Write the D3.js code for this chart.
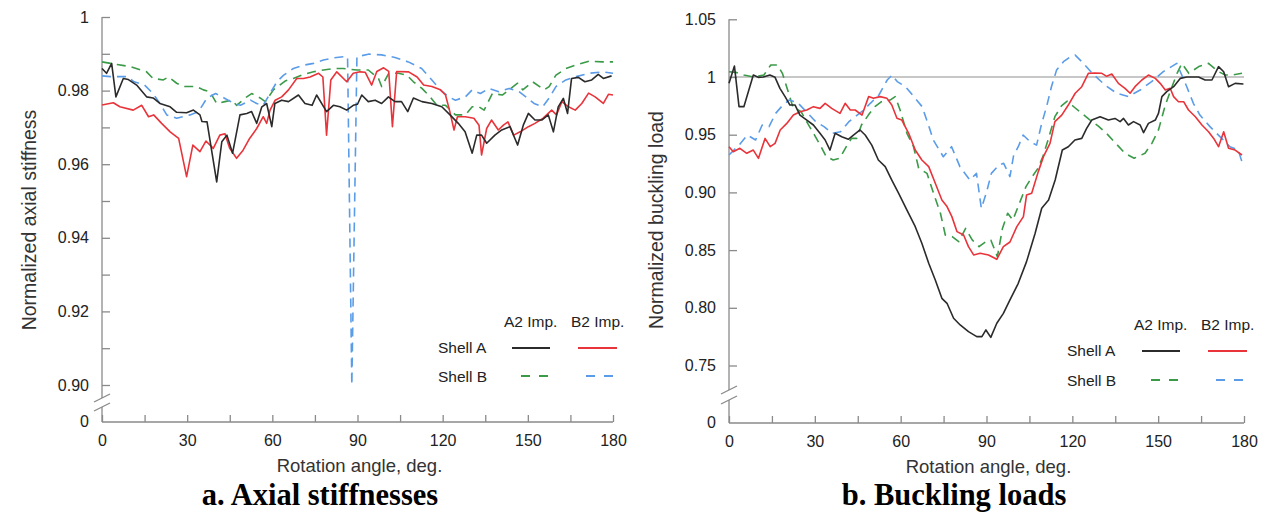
<!DOCTYPE html>
<html><head><meta charset="utf-8">
<script src="https://cdn.jsdelivr.net/npm/d3@7"></script>
<style>
html,body{margin:0;padding:0;background:#fff;}
svg{display:block;}
</style></head><body>
<svg id="c" width="1262" height="515"></svg>
<script>
// ---------- tick labels / categories ----------
const angleTicks = [0, 30, 60, 90, 120, 150, 180];
const angleMinorStep = 15;
const stiffTicks = [0.90, 0.92, 0.94, 0.96, 0.98, 1];
const stiffMinor = [0.91, 0.93, 0.95, 0.97, 0.99];
const buckTicks = [0.75, 0.80, 0.85, 0.90, 0.95, 1, 1.05];
const legendCols = ["A2 Imp.", "B2 Imp."];
const legendRows = ["Shell A", "Shell B"];

// ---------- series (angle deg, value) ----------
// a. Axial stiffness
const stiffShellA_A2 = [[0,0.986],[1.6,0.9847],[3.4,0.9874],[4.9,0.9783],[7.5,0.9833],[9.3,0.983],[12.2,0.9815],[15.7,0.9783],[18,0.978],[20.4,0.9765],[24,0.9756],[26.3,0.9741],[29.8,0.974],[32.2,0.9747],[34.5,0.9734],[35.2,0.9716],[37,0.9715],[40.4,0.9552],[42.2,0.9661],[44,0.9679],[46,0.963],[48.6,0.9734],[51,0.9738],[52.7,0.9743],[54.5,0.9711],[56.3,0.9756],[58,0.9765],[59.8,0.9702],[60.9,0.9765],[63.3,0.9774],[65.7,0.977],[69.2,0.9788],[71.5,0.9765],[74,0.976],[75.6,0.9788],[79.1,0.9743],[81.5,0.976],[83.8,0.9756],[86.2,0.9747],[88.5,0.976],[90,0.9763],[91.5,0.9788],[93.8,0.977],[96.2,0.9774],[98.5,0.9765],[100.9,0.9783],[103.2,0.977],[105.5,0.977],[107.7,0.9743],[109.7,0.978],[112.7,0.977],[116.2,0.9765],[119.7,0.9756],[122.6,0.9734],[125.5,0.9711],[127.9,0.9688],[130.4,0.963],[132,0.9679],[133.7,0.9679],[135.5,0.9657],[138.4,0.9679],[140.8,0.9693],[143.7,0.9702],[146.4,0.9652],[148.4,0.9706],[150.2,0.9738],[152.5,0.972],[154.9,0.972],[157.2,0.9734],[159,0.9688],[160.7,0.9756],[162.5,0.9779],[164,0.9738],[165.4,0.9833],[167.8,0.9836],[170.1,0.9824],[172.5,0.9829],[174.8,0.9844],[176.6,0.9833],[179.5,0.984]];
const stiffShellA_B2 = [[0,0.9761],[4,0.9767],[6.3,0.9756],[11,0.9747],[14,0.976],[16.4,0.9729],[18.2,0.9734],[21,0.9711],[24,0.9688],[27,0.967],[29.8,0.9566],[32,0.9652],[34.5,0.9634],[36.6,0.9663],[39.2,0.9643],[41.5,0.9679],[43.3,0.9683],[45,0.9643],[47.4,0.9616],[49.7,0.9638],[52,0.967],[54.5,0.9697],[56.8,0.9729],[58,0.9711],[59.2,0.9747],[61,0.9774],[63.3,0.9783],[65.7,0.9802],[68.6,0.9833],[71,0.9833],[73.3,0.9837],[76.3,0.9847],[77.8,0.9837],[79.1,0.9679],[80.6,0.9829],[82.7,0.9851],[86.2,0.9824],[88.5,0.9847],[90.9,0.9851],[92.7,0.985],[95,0.9815],[96.8,0.9852],[99.2,0.9862],[101,0.9852],[102.3,0.9702],[103.8,0.9852],[108,0.9851],[111,0.9837],[113.3,0.9815],[116.2,0.9811],[119.2,0.9802],[121,0.9788],[122.4,0.9747],[124,0.9693],[125.2,0.9729],[128,0.9729],[131,0.9725],[132.8,0.9706],[133.7,0.9625],[135.5,0.9697],[137.2,0.972],[139.6,0.9693],[141.4,0.9706],[143,0.9715],[145,0.9679],[147.3,0.9688],[150.2,0.9702],[152.5,0.9711],[155.4,0.9725],[158.4,0.9747],[160.1,0.9734],[162,0.977],[164.3,0.9756],[166.7,0.9747],[169,0.9765],[171.4,0.9793],[173.7,0.9783],[176.6,0.9765],[178.4,0.979],[180,0.9788]];
const stiffShellB_A2 = [[0,0.9878],[3,0.9874],[5.3,0.9871],[10,0.9865],[15.7,0.9851],[18,0.9833],[21.6,0.9829],[23.4,0.9837],[26.3,0.982],[28.6,0.9811],[33.3,0.9811],[35.7,0.9802],[38,0.9797],[40.4,0.9765],[43.3,0.977],[45.7,0.9774],[47.4,0.976],[51,0.9783],[52.7,0.9792],[55.7,0.978],[57.5,0.977],[60.4,0.9802],[64.5,0.9826],[67.4,0.9833],[71,0.9844],[74.5,0.9851],[78,0.9856],[81.5,0.986],[85,0.986],[89.7,0.9856],[93.8,0.9856],[97.4,0.9833],[98.5,0.9811],[101,0.9847],[104.4,0.9847],[107.4,0.9842],[109.7,0.9824],[112.7,0.9806],[115.6,0.9783],[118,0.976],[121,0.976],[124.5,0.9734],[128,0.9734],[130.4,0.9756],[132.8,0.9756],[134.6,0.9747],[137.5,0.9792],[141,0.9788],[143.4,0.9802],[146.4,0.982],[148.2,0.9802],[151.7,0.9824],[155.8,0.9802],[157.5,0.9811],[159.9,0.9842],[163.4,0.986],[167,0.987],[171.6,0.988],[176.3,0.9878],[180,0.9878]];
const stiffShellB_B2 = [[0,0.984],[3,0.9838],[9,0.9838],[11.3,0.9824],[15,0.9815],[18,0.9792],[20.4,0.9765],[22.8,0.9734],[26.3,0.9725],[31,0.9734],[34,0.9743],[37,0.978],[40,0.9792],[43,0.978],[46.5,0.9765],[48.8,0.976],[52.3,0.9774],[54.5,0.9765],[56.8,0.976],[59.2,0.9792],[61.6,0.9824],[64,0.9842],[67.4,0.986],[71,0.9869],[74.5,0.9874],[78,0.9883],[81.5,0.9889],[85,0.9892],[86.5,0.9892],[88,0.900],[89.8,0.9892],[93.8,0.9899],[98.5,0.9897],[103.2,0.989],[107.9,0.9878],[112.6,0.986],[116.2,0.9829],[119.2,0.9802],[122.1,0.9783],[124.5,0.9774],[128,0.9783],[130.4,0.9802],[133.3,0.9792],[136.3,0.9806],[139.8,0.9797],[143.4,0.9806],[146.9,0.9797],[149.3,0.9783],[152.2,0.9765],[155.2,0.9756],[157.5,0.978],[159.9,0.9811],[163.4,0.9829],[167,0.9838],[171.6,0.9847],[176.3,0.9851],[180,0.9847]];

// b. Buckling load
const buckShellA_A2 = [[0,0.9945],[1.9,1.0095],[3.5,0.9743],[5.2,0.9743],[6.6,0.9859],[8.5,1.0017],[10.2,0.9997],[12,1.0],[14.3,1.0017],[16.1,0.9997],[17.8,0.9902],[19.6,0.983],[21.3,0.9757],[23.1,0.9757],[24.8,0.967],[27.2,0.9627],[29.5,0.9584],[31.8,0.9512],[33.6,0.9454],[35.3,0.9367],[37.1,0.9512],[39.4,0.9483],[41.7,0.946],[43.5,0.9497],[45.8,0.9541],[47.6,0.9497],[49.9,0.941],[52.2,0.9281],[54.6,0.9223],[56.9,0.9107],[59.3,0.8992],[62.2,0.8847],[65.1,0.8703],[67.4,0.8559],[69.8,0.8386],[72.1,0.8241],[74.4,0.8082],[76.2,0.8039],[78.5,0.7909],[80.8,0.7851],[83.7,0.7793],[86.6,0.775],[88.4,0.775],[89.8,0.7808],[91.5,0.7744],[93.6,0.7866],[95.9,0.7952],[98.2,0.8068],[101.1,0.8212],[104,0.84],[107,0.8646],[109.3,0.8862],[111.7,0.8934],[114,0.9107],[116.5,0.9367],[118.6,0.9396],[120.9,0.9454],[123.3,0.9468],[125,0.9555],[126.8,0.9627],[129.7,0.9656],[132.6,0.9627],[134.9,0.9641],[136.7,0.9613],[137.9,0.9641],[139.6,0.9584],[141.4,0.9613],[143.7,0.9584],[144.9,0.9518],[146.6,0.9598],[149,0.9627],[150.1,0.9684],[151.3,0.983],[153,0.9873],[155.4,0.9916],[157.7,0.9988],[160,1.0],[164.1,1.0],[166.4,0.9974],[168.8,0.9974],[171.1,1.009],[172.9,1.0045],[174.6,0.9916],[176.9,0.9945],[179.8,0.994]];
const buckShellA_B2 = [[0,0.9396],[1.5,0.9353],[3.8,0.9382],[6.2,0.9339],[8.5,0.9367],[10.3,0.9295],[12.6,0.9468],[14.4,0.9396],[16.1,0.9425],[17.9,0.9541],[20.2,0.9598],[22.5,0.967],[24.9,0.9699],[27.2,0.9714],[29.5,0.9743],[31.8,0.9728],[33.6,0.9772],[35.9,0.9728],[38.8,0.9685],[40.6,0.9772],[42.4,0.9714],[44.1,0.9714],[46.5,0.967],[48.8,0.983],[50.5,0.9815],[52.8,0.983],[55.2,0.9815],[56.9,0.9757],[58.7,0.9642],[60.4,0.9627],[62.8,0.9512],[65.1,0.9367],[67.4,0.9281],[69.8,0.9223],[72.1,0.9079],[74.4,0.8934],[76.2,0.8877],[77.9,0.879],[79.7,0.866],[82,0.8631],[83.7,0.853],[85.5,0.8458],[87.8,0.8472],[90.7,0.8458],[93.6,0.842],[95.9,0.853],[98.2,0.857],[100.6,0.8703],[102.9,0.879],[104,0.8977],[105.8,0.8992],[108.1,0.918],[109.9,0.931],[112.2,0.9425],[113.9,0.9613],[116.3,0.967],[118.6,0.9757],[121,0.9859],[123.3,0.9916],[125.6,1.0032],[127.9,1.0035],[130.3,1.0032],[132,1.0006],[133.8,1.0026],[136.1,0.9945],[138.4,0.9902],[140.2,0.9859],[141.9,0.9916],[144.3,0.9974],[146.6,1.0017],[149,0.9988],[150.7,0.9945],[152.5,0.9887],[154.2,0.9902],[155.4,0.983],[157.1,0.9786],[158.9,0.9786],[160.6,0.9714],[163,0.9656],[165.3,0.9584],[167.6,0.9526],[169.4,0.9468],[171.1,0.9396],[172.9,0.9526],[174.6,0.9382],[176.9,0.9367],[179.3,0.9324]];
const buckShellB_A2 = [[0,1.0046],[2.4,1.004],[5.2,1.0017],[8.7,1.0],[12.2,1.0017],[14.6,1.0104],[17,1.0104],[18.7,1.003],[20.5,0.9887],[22.3,0.9743],[25.2,0.97],[27.5,0.9598],[29.9,0.9497],[32.2,0.9396],[34,0.931],[36.4,0.9281],[38.7,0.9295],[41,0.9396],[42.8,0.9468],[44.6,0.9468],[46.3,0.9584],[48.7,0.967],[51,0.9743],[53.3,0.9786],[56.3,0.98],[58.1,0.983],[59.8,0.9714],[62.2,0.9512],[64.5,0.9396],[66.3,0.9209],[69.2,0.9165],[71.5,0.8992],[73.9,0.8819],[75.6,0.8631],[78,0.8616],[80.3,0.8573],[82.7,0.8688],[85,0.8588],[87.4,0.853],[89.7,0.8573],[91.5,0.8588],[93.8,0.8443],[95.6,0.869],[97.4,0.8819],[99.2,0.876],[101.5,0.8905],[103.8,0.905],[105.6,0.9122],[108,0.9209],[109.7,0.931],[111.5,0.9454],[113.9,0.9656],[116.2,0.975],[118.2,0.979],[120.6,0.974],[123.3,0.9685],[126,0.963],[129.1,0.9575],[132,0.951],[135,0.943],[138.4,0.9339],[141.6,0.9296],[145.4,0.9339],[147.8,0.9425],[150.1,0.9541],[152.5,0.9757],[154.2,0.9873],[156.6,1.0032],[158.3,1.0118],[160.7,1.0032],[164.2,1.009],[167.6,1.0118],[171.1,1.0046],[173.5,1.0017],[175.8,1.0017],[179.3,1.0032]];
const buckShellB_B2 = [[0,0.9324],[3.5,0.941],[6.4,0.9497],[9.3,0.9454],[11.6,0.9584],[14,0.957],[16.3,0.9685],[18.6,0.975],[21,0.980],[23.9,0.978],[27.4,0.969],[30.3,0.9613],[33.2,0.957],[36.1,0.9512],[39,0.9526],[41.9,0.9613],[44.8,0.967],[47.1,0.9714],[49.4,0.9772],[52.4,0.9844],[55.3,0.9974],[57,1.0017],[58.8,0.996],[61.7,0.9916],[64.6,0.983],[67.5,0.9743],[69.9,0.957],[71.4,0.9454],[74.9,0.9309],[77.8,0.9396],[80.7,0.9223],[84.2,0.9107],[86.5,0.9165],[88.2,0.8862],[90,0.9],[91.7,0.9165],[94.4,0.9238],[96,0.9252],[98.2,0.9137],[99.5,0.9324],[101.1,0.9396],[102.8,0.9497],[105.2,0.944],[107.5,0.941],[109.3,0.9598],[111,0.9743],[112.7,0.9916],[114.5,1.006],[116.9,1.0133],[119,1.017],[121,1.019],[123.8,1.012],[127,1.0032],[131.4,0.993],[135.5,0.9859],[139.6,0.983],[143.7,0.9887],[147.7,0.996],[151.8,1.0046],[156.5,1.0118],[160,0.9916],[162.3,0.9772],[164.6,0.967],[168.1,0.957],[171.6,0.9483],[175.1,0.9396],[178,0.9367],[179.8,0.9223]];

// ---------- styles ----------
const seriesStyle = {
  A_A2: {color: "#2b2b2b", dash: null},
  A_B2: {color: "#e8343a", dash: null},
  B_A2: {color: "#3a9a47", dash: "9,6"},
  B_B2: {color: "#5b9ce8", dash: "9,6"}
};
const axisColor = "#8a8a8a";
const SANS = '"Liberation Sans", Arial, Helvetica, sans-serif';
const SERIF = '"Liberation Serif", "Times New Roman", serif';

const svg = d3.select("#c");

function panel(cfg) {
  const g = svg.append("g").style("font-family", SANS);
  const x = d3.scaleLinear().domain([0, 180]).range([cfg.x0, cfg.x1]);
  const y = d3.scaleLinear().domain(cfg.yDomain).range(cfg.yRange);

  // reference line
  if (cfg.refLine != null) {
    g.append("line").attr("x1", cfg.x0).attr("x2", cfg.x1)
      .attr("y1", y(cfg.refLine)).attr("y2", y(cfg.refLine))
      .attr("stroke", "#b5b5b5").attr("stroke-width", 1.3);
  }

  // x axis
  const xa = g.append("g").attr("transform", `translate(0,${cfg.axisY})`)
    .call(d3.axisBottom(x).tickValues(d3.range(0, 181, angleMinorStep))
      .tickSize(-7).tickPadding(13)
      .tickFormat(d => angleTicks.includes(d) ? d : ""));
  xa.select(".domain").remove();
  xa.selectAll("line").attr("stroke", axisColor).attr("stroke-width", 1.3);
  xa.selectAll("text").attr("font-size", 16).attr("fill", "#222").style("font-family", SANS);
  g.append("line").attr("x1", cfg.x0).attr("x2", cfg.x1)
    .attr("y1", cfg.axisY).attr("y2", cfg.axisY)
    .attr("stroke", axisColor).attr("stroke-width", 1.3);

  // y axis
  const ya = g.append("g").attr("transform", `translate(${cfg.x0},0)`)
    .call(d3.axisLeft(y).tickValues(cfg.yTicks.concat(cfg.yMinor || []))
      .tickSize(-8).tickPadding(13)
      .tickFormat(d => cfg.yTicks.includes(d) ? cfg.fmt(d) : ""));
  ya.select(".domain").remove();
  ya.selectAll("line").attr("stroke", axisColor).attr("stroke-width", 1.3);
  ya.selectAll("text").attr("font-size", 16).attr("fill", "#222").style("font-family", SANS);

  // axis line with break
  g.append("line").attr("x1", cfg.x0).attr("x2", cfg.x0)
    .attr("y1", cfg.yRange[1]).attr("y2", cfg.breakTop)
    .attr("stroke", axisColor).attr("stroke-width", 1.3);
  g.append("line").attr("x1", cfg.x0).attr("x2", cfg.x0)
    .attr("y1", cfg.breakBot).attr("y2", cfg.axisY)
    .attr("stroke", axisColor).attr("stroke-width", 1.3);
  [cfg.breakTop, cfg.breakBot].forEach(yy => {
    g.append("line").attr("x1", cfg.x0 - 8).attr("x2", cfg.x0 + 8)
      .attr("y1", yy + 4).attr("y2", yy - 4)
      .attr("stroke", axisColor).attr("stroke-width", 1.3);
  });
  g.append("text").attr("x", cfg.x0 - 13).attr("y", cfg.axisY)
    .attr("dy", "0.32em").attr("text-anchor", "end").attr("fill", "#222")
    .attr("font-size", 16).text("0");

  // series
  const line = d3.line().x(d => x(d[0])).y(d => y(d[1]));
  cfg.series.forEach(s => {
    const st = seriesStyle[s.key];
    g.append("path").datum(s.data).attr("d", line)
      .attr("fill", "none").attr("stroke", st.color)
      .attr("stroke-width", 1.6).attr("stroke-linejoin", "round")
      .attr("stroke-dasharray", st.dash);
  });

  // axis titles
  g.append("text").attr("x", (cfg.x0 + cfg.x1) / 2 + 2).attr("y", cfg.axisY + 50)
    .attr("text-anchor", "middle").attr("font-size", 18.5).attr("fill", "#333")
    .text("Rotation angle, deg.");
  g.append("text")
    .attr("transform", `translate(${cfg.x0 - 66},220) rotate(-90)`)
    .attr("text-anchor", "middle").attr("font-size", 19.5).attr("fill", "#333")
    .text(cfg.yTitle);

  // legend
  const L = cfg.legend;
  const lt = (xx, yy, s) => g.append("text").attr("x", xx).attr("y", yy)
    .attr("font-size", 15.5).attr("fill", "#222").text(s);
  lt(L.c1, L.hy, legendCols[0]);
  lt(L.c2, L.hy, legendCols[1]);
  lt(L.rx, L.r1, legendRows[0]);
  lt(L.rx, L.r2, legendRows[1]);
  const lg = (x1, x2, yy, key) => {
    const st = seriesStyle[key];
    g.append("line").attr("x1", x1).attr("x2", x2).attr("y1", yy).attr("y2", yy)
      .attr("stroke", st.color).attr("stroke-width", 1.8)
      .attr("stroke-dasharray", st.dash ? "9,9" : null);
  };
  lg(L.c1 + 8, L.c1 + 46, L.r1 - 5, "A_A2");
  lg(L.c2 + 7, L.c2 + 46, L.r1 - 5, "A_B2");
  lg(L.c1 + 17, L.c1 + 44, L.r2 - 6, "B_A2");
  lg(L.c2 + 15, L.c2 + 42, L.r2 - 6, "B_B2");

  // caption
  g.append("text").attr("x", cfg.capX).attr("y", 505)
    .attr("text-anchor", "middle").attr("font-size", 30.5).attr("font-weight", "bold")
    .style("font-family", SERIF).attr("fill", "#000")
    .text(cfg.caption);
}

panel({
  x0: 102, x1: 613, axisY: 422,
  yDomain: [0.90, 1], yRange: [385, 17],
  yTicks: stiffTicks, yMinor: stiffMinor,
  fmt: d => d === 1 ? "1" : d3.format(".2f")(d),
  breakTop: 398, breakBot: 407,
  yTitle: "Normalized axial stiffness",
  legend: {c1: 504, c2: 571, hy: 327, rx: 438, r1: 353, r2: 382},
  caption: "a. Axial stiffnesses", capX: 320,
  series: [
    {key: "B_A2", data: stiffShellB_A2},
    {key: "B_B2", data: stiffShellB_B2},
    {key: "A_B2", data: stiffShellA_B2},
    {key: "A_A2", data: stiffShellA_A2}
  ]
});

panel({
  x0: 729, x1: 1244, axisY: 423,
  yDomain: [0.75, 1.05], yRange: [365.5, 19.3],
  yTicks: buckTicks, yMinor: [],
  fmt: d => d === 1 ? "1" : d3.format(".2f")(d),
  breakTop: 390, breakBot: 400,
  refLine: 1,
  yTitle: "Normalized buckling load",
  legend: {c1: 1134, c2: 1201, hy: 330, rx: 1067, r1: 356, r2: 386},
  caption: "b. Buckling loads", capX: 954,
  series: [
    {key: "B_A2", data: buckShellB_A2},
    {key: "B_B2", data: buckShellB_B2},
    {key: "A_B2", data: buckShellA_B2},
    {key: "A_A2", data: buckShellA_A2}
  ]
});
</script>
</body></html>
